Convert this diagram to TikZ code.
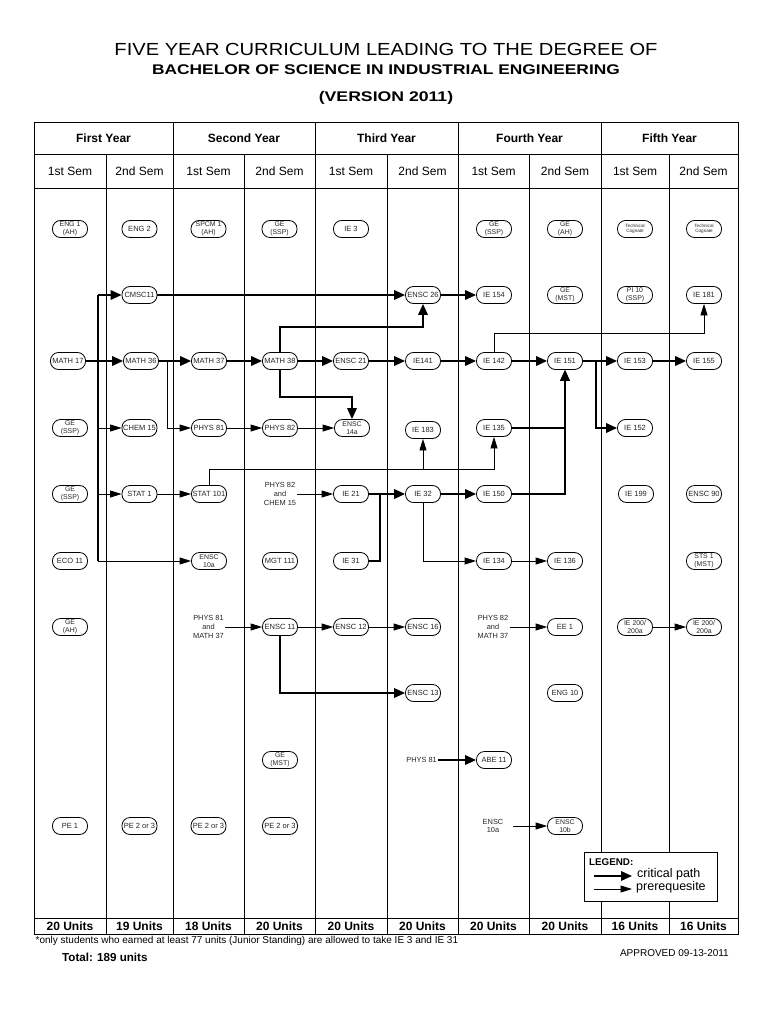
\documentclass[tikz,border=0pt]{standalone}
\usepackage{fontspec}
\setmainfont{Liberation Sans}
\usetikzlibrary{arrows.meta}
\pgfdeclarelayer{bg}
\pgfsetlayers{bg,main}
\begin{document}
\begin{tikzpicture}[x=1pt,y=-1pt,
 course/.style={draw,line width=0.8pt,rounded corners=8pt,minimum width=35pt,minimum height=17pt,inner sep=0.5pt,fill=white,text=black!85,font=\fontsize{7.5}{7.5}\selectfont,align=center},
 two/.style={font=\fontsize{6.9}{7.8}\selectfont},
 tech/.style={font=\fontsize{4.6}{5.4}\selectfont},
 txt/.style={inner sep=1pt,align=center,text=black!85,font=\fontsize{7.4}{8.6}\selectfont},
 crit/.style={line width=1.8pt,-{Triangle[length=11pt,width=9.5pt]}},
 critl/.style={line width=1.8pt},
 pre/.style={line width=0.8pt,-{Triangle[length=11.5pt,width=7pt]}},
 gridline/.style={line width=0.8pt},
 yr/.style={font=\bfseries\fontsize{12}{12}\selectfont},
 sem/.style={font=\fontsize{12}{12}\selectfont},
 unitlbl/.style={font=\bfseries\fontsize{12}{12}\selectfont}
]
\useasboundingbox (0,0) rectangle (768,1024);

% titles
\node (title1) at (386,49) {\fontsize{17.5}{17.5}\selectfont\scalebox{1.15}[1]{FIVE YEAR CURRICULUM LEADING TO THE DEGREE OF}};
\node (title2) at (386,70) {\bfseries\fontsize{14}{14}\selectfont\scalebox{1.24}[1]{BACHELOR OF SCIENCE IN INDUSTRIAL ENGINEERING}};
\node (title3) at (386,98) {\bfseries\fontsize{14}{14}\selectfont\scalebox{1.26}[1]{(VERSION 2011)}};

% grid
\begin{pgfonlayer}{bg}
\fill[white] (0,0) rectangle (768,1024);
\draw[gridline] (34,122) rectangle (738,934);
\draw[gridline] (34,154) -- (738,154);
\draw[gridline] (34,188) -- (738,188);
\draw[gridline] (34,918) -- (738,918);
\foreach \x in {173,315,458,601} \draw[gridline] (\x,122) -- (\x,934);
\foreach \x in {106,244,387,529,669} \draw[gridline] (\x,154) -- (\x,934);
\end{pgfonlayer}

\node[yr] (y1) at (103.5,138) {First Year};
\node[yr] (y2) at (244,138) {Second Year};
\node[yr] (y3) at (386.5,138) {Third Year};
\node[yr] (y4) at (529.5,138) {Fourth Year};
\node[yr] (y5) at (669.5,138) {Fifth Year};
\foreach \c/\t [count=\i] in {70/1st,139.5/2nd,208.5/1st,279.5/2nd,351/1st,422.5/2nd,493.5/1st,565/2nd,635/1st,703.5/2nd}
  \node[sem] (s\i) at (\c,171) {\t\ Sem};
\foreach \c/\t [count=\i] in {70/20,139.5/19,208.5/18,279.5/20,351/20,422.5/20,493.5/20,565/20,635/16,703.5/16}
  \node[unitlbl] (u\i) at (\c,926.5) {\t\ Units};

% column 1
\node[course,two] (eng1) at (70,229) {ENG 1\\(AH)};
\node[course] (m17) at (68,361) {MATH 17};
\node[course,two] (ge1) at (70,428) {GE\\(SSP)};
\node[course,two] (ge2) at (70,494) {GE\\(SSP)};
\node[course] (eco11) at (70,561) {ECO 11};
\node[course,two] (ge3) at (70,627) {GE\\(AH)};
\node[course] (pe1) at (70,826) {PE 1};
% column 2
\node[course] (eng2) at (139.5,229) {ENG 2};
\node[course] (cmsc11) at (139.5,295) {CMSC11};
\node[course] (m36) at (141,361) {MATH 36};
\node[course] (ch15) at (139.5,428) {CHEM 15};
\node[course] (st1) at (139.5,494) {STAT 1};
\node[course] (pe2) at (139.5,826) {PE 2 or 3};
% column 3
\node[course,two] (spcm1) at (208.5,229) {SPCM 1\\(AH)};
\node[course] (m37) at (209,361) {MATH 37};
\node[course] (p81) at (209,428) {PHYS 81};
\node[course] (st101) at (209,494) {STAT 101};
\node[course,two] (e10a) at (209,561) {ENSC\\10a};
\node[txt] (t1) at (208.5,627) {PHYS 81\\and\\MATH 37};
\node[course] (pe3) at (208.5,826) {PE 2 or 3};
% column 4
\node[course,two] (ge4) at (279.5,229) {GE\\(SSP)};
\node[course] (m38) at (280,361) {MATH 38};
\node[course] (p82) at (280,428) {PHYS 82};
\node[txt] (t2) at (280,494) {PHYS 82\\and\\CHEM 15};
\node[course] (mgt) at (280,561) {MGT 111};
\node[course] (e11) at (280,627) {ENSC 11};
\node[course,two] (ge5) at (280,760) {GE\\(MST)};
\node[course] (pe4) at (280,826) {PE 2 or 3};
% column 5
\node[course] (ie3) at (351,229) {IE 3};
\node[course] (e21) at (351,361) {ENSC 21};
\node[course,two] (e14a) at (352,428) {ENSC\\14a};
\node[course] (ie21) at (351,494) {IE 21};
\node[course] (ie31) at (351,561) {IE 31};
\node[course] (e12) at (351,627) {ENSC 12};
% column 6
\node[course] (e26) at (423,295) {ENSC 26};
\node[course] (ie141) at (423,361) {IE141};
\node[course] (ie183) at (423,430) {IE 183};
\node[course] (ie32) at (423,494) {IE 32};
\node[course] (e16) at (423,627) {ENSC 16};
\node[course] (e13) at (423,693) {ENSC 13};
\node[txt,anchor=east] (t3) at (438,760) {PHYS 81};
% column 7
\node[course,two] (ge6) at (494,229) {GE\\(SSP)};
\node[course] (ie154) at (494,295) {IE 154};
\node[course] (ie142) at (494,361) {IE 142};
\node[course] (ie135) at (494,428) {IE 135};
\node[course] (ie150) at (494,494) {IE 150};
\node[course] (ie134) at (494,561) {IE 134};
\node[txt] (t4) at (493,627) {PHYS 82\\and\\MATH 37};
\node[course] (abe11) at (494,760) {ABE 11};
\node[txt] (t5) at (493,826) {ENSC\\10a};
% column 8
\node[course,two] (ge7) at (565,229) {GE\\(AH)};
\node[course,two] (ge8) at (565,295) {GE\\(MST)};
\node[course] (ie151) at (565,361) {IE 151};
\node[course] (ie136) at (565,561) {IE 136};
\node[course] (ee1) at (565,627) {EE 1};
\node[course] (eng10) at (565,693) {ENG 10};
\node[course,two] (e10b) at (565,826) {ENSC\\10b};
% column 9
\node[course,tech] (tc1) at (635,229) {Technical\\Cognate};
\node[course,two] (pi10) at (635,295) {PI 10\\(SSP)};
\node[course] (ie153) at (635,361) {IE 153};
\node[course] (ie152) at (635,428) {IE 152};
\node[course] (ie199) at (636,494) {IE 199};
\node[course,two] (ie200a) at (635,627) {IE 200/\\200a};
% column 10
\node[course,tech] (tc2) at (704,229) {Technical\\Cognate};
\node[course] (ie181) at (704,295) {IE 181};
\node[course] (ie155) at (704,361) {IE 155};
\node[course] (e90) at (704,494) {ENSC 90};
\node[course,two] (sts1) at (704,561) {STS 1\\(MST)};
\node[course,two] (ie200b) at (704,627) {IE 200/\\200a};

% junction points
\coordinate (j0) at (98,295);
\coordinate (ja) at (98,428);
\coordinate (jb) at (98,494);
\coordinate (j3) at (98,561);
\coordinate (j2) at (167,361);
\coordinate (j4) at (596,361);
\coordinate (j5) at (380,494);

\begin{pgfonlayer}{bg}
% critical path
\draw[crit] (m17) -- (m36);
\draw[critl] (j0) -- (j3);
\draw[crit] (j0) -- (cmsc11);
\draw[crit] (m36) -- (m37);
\draw[crit] (m37) -- (m38);
\draw[crit] (m38) -- (e21);
\draw[crit] (m38) -- ++(0,-34) -| (e26);
\draw[crit] (m38) -- ++(0,36) -| (e14a);
\draw[crit] (cmsc11) -- (e26);
\draw[crit] (e26) -- (ie154);
\draw[crit] (e21) -- (ie141);
\draw[crit] (ie141) -- (ie142);
\draw[crit] (ie142) -- (ie151);
\draw[crit] (ie151) -- (ie153);
\draw[crit] (ie153) -- (ie155);
\draw[crit] (j4) |- (ie152);
\draw[crit] (ie135) -| (ie151);
\draw[crit] (ie150) -| (ie151);
\draw[crit] (ie21) -- (ie32);
\draw[critl] (ie31) -| (j5);
\draw[crit] (ie32) -- (ie150);
\draw[crit] (e11) |- (e13);
\draw[crit] (t3) -- (abe11);
% prerequisites
\draw[pre] (ja) -- (ch15);
\draw[pre] (jb) -- (st1);
\draw[pre] (j3) -- (e10a);
\draw[pre] (j2) |- (p81);
\draw[pre] (p81) -- (p82);
\draw[pre] (p82) -- (e14a);
\draw[pre] (st1) -- (st101);
\draw[pre] (st101) -- ++(0,-25) -| (ie135);
\draw[pre] (st101) -- ++(0,-25) -| (ie183);
\draw[pre] (ie142) -- ++(0,-28) -| (ie181);
\draw[pre] (t2) -- (ie21);
\draw[pre] (ie32) |- (ie134);
\draw[pre] (ie134) -- (ie136);
\draw[pre] (t1) -- (e11);
\draw[pre] (e11) -- (e12);
\draw[pre] (e12) -- (e16);
\draw[pre] (t4) -- (ee1);
\draw[pre] ([xshift=9pt]t5.east) -- (e10b);
\draw[pre] (ie200a) -- (ie200b);
\end{pgfonlayer}

% legend
\draw[gridline,fill=white] (584,852) rectangle (717,901);
\node[anchor=west,inner sep=0pt,font=\bfseries\fontsize{9.8}{9.8}\selectfont] (lg) at (589,862) {LEGEND:};
\coordinate (la1) at (594,876);
\coordinate (la2) at (632,876);
\coordinate (lb1) at (594,889);
\coordinate (lb2) at (632,889);
\draw[crit] (la1) -- (la2);
\draw[pre] (lb1) -- (lb2);
\node[anchor=west,inner sep=0pt,font=\fontsize{12.5}{12.5}\selectfont] (lc) at (637,874) {critical path};
\node[anchor=west,inner sep=0pt,font=\fontsize{12.5}{12.5}\selectfont] (lp) at (636,887.5) {prerequesite};

% footer
\node[anchor=west,inner sep=0pt,font=\fontsize{10}{10}\selectfont] (foot) at (35.5,940.5) {*only students who earned at least 77 units (Junior Standing) are allowed to take IE 3 and IE 31};
\node[anchor=west,inner sep=0pt,font=\bfseries\fontsize{11.6}{11.6}\selectfont] (total) at (62,957) {Total: 189 units};
\node[anchor=east,inner sep=0pt,font=\fontsize{10}{10}\selectfont] (appr) at (729,953) {APPROVED 09-13-2011};
\end{tikzpicture}
\end{document}
